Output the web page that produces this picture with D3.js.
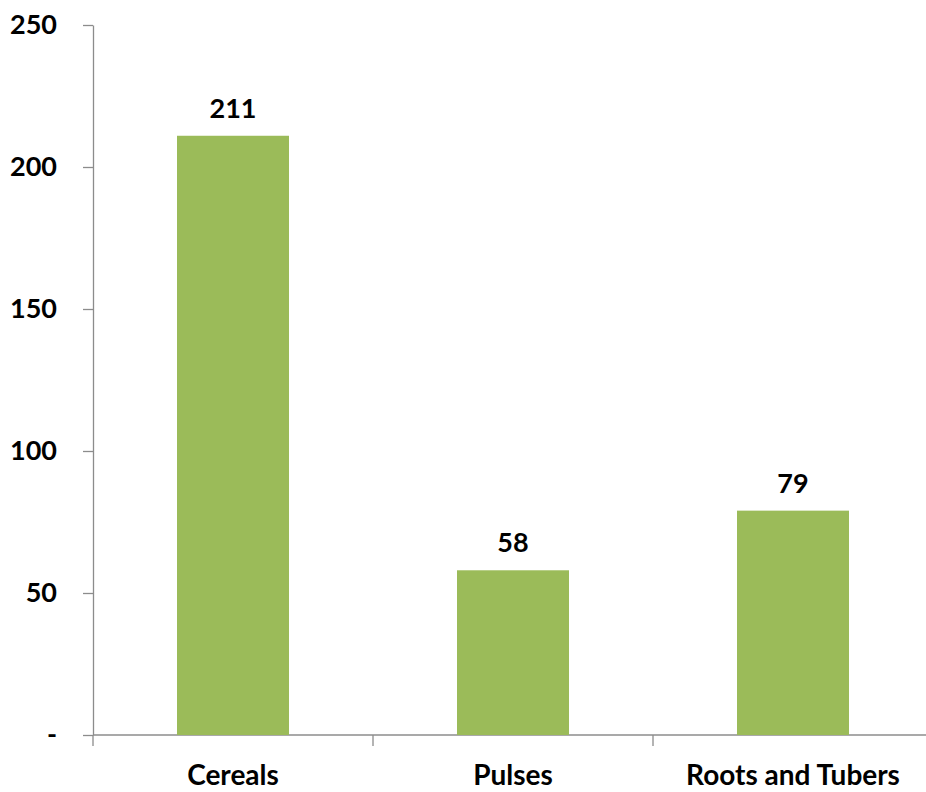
<!DOCTYPE html>
<html>
<head>
    <meta charset="utf-8">
    <title>food-bars</title>
    <script src="https://cdn.jsdelivr.net/npm/d3@7"></script>
    <style type="text/css">
        body { margin: 0; background: #ffffff; }
        text { font-family: Lato, sans-serif; font-weight: bold; fill: #000000; }
        .axis path, .axis line { stroke: #8c8c8c; stroke-width: 1.3px; }
    </style>
</head>
<body>
<div id="mysvg"></div>
<script>
var categories = ['Cereals', 'Pulses', 'Roots and Tubers'];
var values = [211, 58, 79];
var yTicks = [0, 50, 100, 150, 200, 250];

var width = 926, height = 792;
var x0 = 93, yTop = 25, yBase = 735;

var svg = d3.select('#mysvg').append('svg')
            .attr('width', width).attr('height', height);

var x = d3.scaleBand().domain(categories)
          .range([x0, x0 + 840])
          .paddingInner(0.6).paddingOuter(0.3);

var y = d3.scaleLinear().domain([0, 250]).range([yBase, yTop]);

// y axis
var yAxis = svg.append('g').attr('class', 'axis')
               .attr('transform', 'translate(' + x0 + ',0)')
               .call(d3.axisLeft(y).tickValues(yTicks).tickSize(10).tickSizeOuter(0)
                       .tickFormat(function(d) { return d === 0 ? '-' : d; }));
yAxis.selectAll('text').attr('x', -36).style('font-size', '27px');

// x axis line and category separators
var xAxis = svg.append('g').attr('class', 'axis');
xAxis.append('line')
     .attr('x1', x0).attr('x2', width)
     .attr('y1', yBase).attr('y2', yBase);
xAxis.selectAll('.sep')
     .data(d3.range(categories.length + 1))
     .enter().append('line')
     .attr('x1', function(i) { return x0 + i * x.step(); })
     .attr('x2', function(i) { return x0 + i * x.step(); })
     .attr('y1', yBase).attr('y2', yBase + 11);

xAxis.selectAll('.cat')
     .data(categories)
     .enter().append('text')
     .attr('x', function(d) { return x(d) + x.bandwidth() / 2; })
     .attr('y', 785)
     .attr('text-anchor', 'middle')
     .style('font-size', '28px')
     .text(function(d) { return d; });

// bars
svg.append('g').selectAll('rect')
   .data(values)
   .enter().append('rect')
   .attr('x', function(d, i) { return x(categories[i]); })
   .attr('y', function(d) { return y(d); })
   .attr('width', x.bandwidth())
   .attr('height', function(d) { return yBase - y(d); })
   .attr('fill', '#9bbb59');

// value labels
svg.append('g').selectAll('text')
   .data(values)
   .enter().append('text')
   .attr('x', function(d, i) { return x(categories[i]) + x.bandwidth() / 2; })
   .attr('y', function(d) { return y(d) - 18; })
   .attr('text-anchor', 'middle')
   .style('font-size', '27px')
   .text(function(d) { return d; });
</script>
</body>
</html>
